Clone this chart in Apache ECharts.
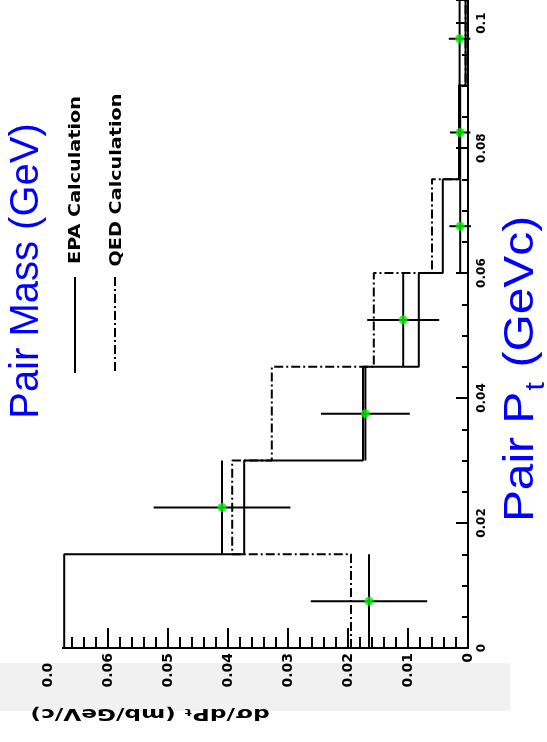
<!DOCTYPE html>
<html><head><meta charset="utf-8">
<script src="https://cdn.jsdelivr.net/npm/echarts@6/dist/echarts.min.js"></script>
<style>html,body{margin:0;padding:0;background:#fff}#c{width:547px;height:742px}</style>
</head><body><div id="c"></div>
<script>
// Pair Pt bin edges (GeV/c)
const binEdges = [0, 0.015, 0.03, 0.045, 0.06, 0.075, 0.09, 0.105];
// histogram values per bin
const epaValues = [0.0673, 0.0373, 0.0175, 0.0082, 0.0042, 0.0015, 0.0004];
const qedValues = [0.0195, 0.0393, 0.0327, 0.0157, 0.0060, 0.0015, 0.0004];
// data points
const dataPt = [0.0075, 0.0225, 0.0375, 0.0525, 0.0675, 0.0825, 0.0975];
const dataPtLo = [0, 0.015, 0.03, 0.045, 0.06, 0.075, 0.09];
const dataPtHi = [0.015, 0.03, 0.045, 0.06, 0.075, 0.09, 0.105];
const dataValues = [0.0165, 0.0410, 0.0171, 0.0108, 0.0013, 0.0013, 0.0014];
const dataErrors = [0.0097, 0.0114, 0.0074, 0.0060, 0.0018, 0.0017, 0.0018];
// tick labels
const valueTicks = [0, 0.01, 0.02, 0.03, 0.04, 0.05, 0.06, 0.07];
const valueTickLabels = ['0', '0.01', '0.02', '0.03', '0.04', '0.05', '0.06', '0.07'];
const ptTicks = [0, 0.02, 0.04, 0.06, 0.08, 0.1];
const ptTickLabels = ['0', '0.02', '0.04', '0.06', '0.08', '0.1'];
const legendNames = ['EPA Calculation', 'QED Calculation'];

function lookup(ticks, labels, v) {
  for (let i = 0; i < ticks.length; i++) if (Math.abs(ticks[i] - v) < 1e-6) return labels[i];
  return '';
}
function stepPath(vals) {
  const pts = [];
  vals.forEach((v, i) => { pts.push([v, binEdges[i]]); pts.push([v, binEdges[i + 1]]); });
  return pts;
}
const errData = dataPt.map((p, i) => [dataValues[i], p, dataErrors[i], dataPtLo[i], dataPtHi[i]]);
const ptMax = 0.1037;

const chart = echarts.init(document.getElementById('c'), null, {renderer: 'canvas'});
chart.setOption({
  animation: false,
  backgroundColor: '#fff',
  grid: {left: 48, right: 79, top: 0, bottom: 94, containLabel: false},
  xAxis: {
    type: 'value', inverse: true, min: 0, max: 0.07, interval: 0.01, position: 'bottom',
    axisLine: {lineStyle: {color: '#000', width: 2}},
    axisTick: {inside: true, length: 20, lineStyle: {color: '#000', width: 2}},
    minorTick: {show: true, splitNumber: 5, length: 11, lineStyle: {color: '#000', width: 2}},
    splitLine: {show: false},
    axisLabel: {rotate: 90, margin: 5, fontSize: 14, fontWeight: 'bold', color: '#000', fontFamily: 'DejaVu Sans',
      formatter: v => lookup(valueTicks, valueTickLabels, v)}
  },
  yAxis: {
    type: 'value', min: 0, max: ptMax, interval: 0.02, position: 'right',
    axisLine: {lineStyle: {color: '#000', width: 2}},
    axisTick: {inside: true, length: 12, lineStyle: {color: '#000', width: 2}},
    minorTick: {show: true, splitNumber: 4, length: 6, lineStyle: {color: '#000', width: 2}},
    splitLine: {show: false},
    axisLabel: {rotate: 90, margin: 8, showMaxLabel: false, fontSize: 12, fontWeight: 'bold', color: '#000', fontFamily: 'DejaVu Sans',
      formatter: v => lookup(ptTicks, ptTickLabels, v)}
  },
  series: [
    {type: 'line', name: legendNames[0], data: stepPath(epaValues), symbol: 'none', clip: true,
     lineStyle: {color: '#000', width: 2}, z: 3},
    {type: 'line', name: legendNames[1], data: stepPath(qedValues), symbol: 'none', clip: true,
     lineStyle: {color: '#000', width: 2, type: [9, 3, 2, 3]}, z: 3},
    {type: 'custom', data: errData, z: 4,
     renderItem: function (params, api) {
       const v = api.value(0), p = api.value(1), e = api.value(2), lo = api.value(3), hi = Math.min(api.value(4), ptMax);
       const a = api.coord([v - e, p]), b = api.coord([v + e, p]);
       const c = api.coord([v, lo]), d = api.coord([v, hi]);
       const st = {stroke: '#000', lineWidth: 2};
       return {type: 'group', children: [
         {type: 'line', shape: {x1: a[0], y1: a[1], x2: b[0], y2: b[1]}, style: st},
         {type: 'line', shape: {x1: c[0], y1: c[1], x2: d[0], y2: d[1]}, style: st}
       ]};
     }},
    {type: 'scatter', data: dataPt.map((p, i) => [dataValues[i], p]), symbol: 'circle', symbolSize: 9,
     itemStyle: {color: '#00ee00'}, z: 5}
  ],
  graphic: [
    {type: 'rect', z: -10, shape: {x: 0, y: 663, width: 510, height: 48}, style: {fill: '#f1f1f1'}},
    {type: 'rect', z: 50, shape: {x: 0, y: 0, width: 62, height: 663}, style: {fill: '#ffffff'}},
    {type: 'line', z: 60, shape: {x1: 75, y1: 277, x2: 75, y2: 373}, style: {stroke: '#000', lineWidth: 2}},
    {type: 'line', z: 60, shape: {x1: 115, y1: 277, x2: 115, y2: 373}, style: {stroke: '#000', lineWidth: 2, lineDash: [9, 3, 2, 3]}},
    {type: 'text', z: 60, x: 76, y: 180, rotation: Math.PI / 2, scaleX: 1.2,
     style: {text: legendNames[0], font: 'bold 16px "DejaVu Sans"', fill: '#000', align: 'center', verticalAlign: 'middle'}},
    {type: 'text', z: 60, x: 117, y: 180, rotation: Math.PI / 2, scaleX: 1.2,
     style: {text: legendNames[1], font: 'bold 16px "DejaVu Sans"', fill: '#000', align: 'center', verticalAlign: 'middle'}},
    {type: 'text', z: 60, x: 27, y: 271, rotation: Math.PI / 2,
     style: {text: 'Pair Mass (GeV)', font: '40px "Liberation Sans"', fill: '#0000ff', align: 'center', verticalAlign: 'middle'}},
    {type: 'text', z: 60, x: 524, y: 369, rotation: Math.PI / 2, scaleX: 1.14,
     style: {text: '{a|Pair P}{b|t}{a| (GeVc)}', align: 'center', verticalAlign: 'middle',
       rich: {a: {fontSize: 42, fontFamily: 'Liberation Sans', fill: '#0000ff', verticalAlign: 'top', lineHeight: 48},
              b: {fontSize: 27, fontFamily: 'Liberation Sans', fill: '#0000ff', verticalAlign: 'top', padding: [23, 1, 0, 1], lineHeight: 27}}}},
    {type: 'text', z: 60, x: 150, y: 713, rotation: Math.PI, scaleX: 1.45,
     style: {text: 'dσ/dPₜ (mb/GeV/c)', font: 'bold 16px "DejaVu Sans"', fill: '#000', align: 'center', verticalAlign: 'middle'}}
  ]
});
</script></body></html>
